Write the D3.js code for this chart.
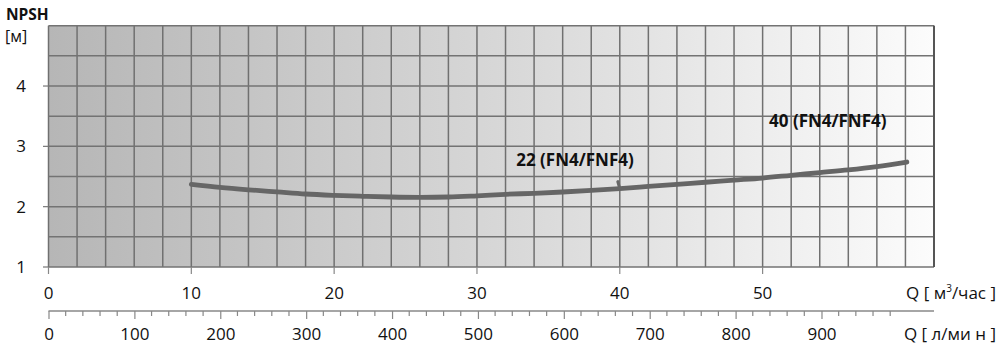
<!DOCTYPE html>
<html><head><meta charset="utf-8">
<script src="https://cdn.jsdelivr.net/npm/d3@7"></script>
<style>
html,body{margin:0;padding:0;background:#fff;}
svg{display:block;font-family:"Open Sans","Noto Sans",sans-serif;}
</style></head>
<body>
<svg id="chart" width="1006" height="347"></svg>
<script>
// ---- data ----
const flowM3h = [10, 12, 14, 16, 18, 20, 22, 24, 26, 28, 30, 32, 34, 36, 38, 40, 42, 44, 46, 48, 50, 52, 54, 56, 58, 60.1];
const npsh    = [2.37, 2.32, 2.28, 2.245, 2.21, 2.188, 2.172, 2.16, 2.155, 2.16, 2.18, 2.205, 2.222, 2.243, 2.27, 2.30, 2.335, 2.37, 2.405, 2.44, 2.475, 2.52, 2.565, 2.61, 2.665, 2.74];
const yTicks = [1, 2, 3, 4];
const m3hTicks = [0, 10, 20, 30, 40, 50];
const lpmMajor = [0, 100, 200, 300, 400, 500, 600, 700, 800, 900];
const curveLabels = ["22 (FN4/FNF4)", "40 (FN4/FNF4)"];
const labelAnchors = [[32.75, 2.672], [50.45, 3.325]];
const markerQ = 40;

// ---- layout ----
const svg = d3.select("#chart");
const pL = 48.5, pR = 934, pT = 25.7, pB = 267;
const x = d3.scaleLinear().domain([0, 62]).range([pL, pR]);
const xl = d3.scaleLinear().domain([0, 1031]).range([pL, pR]);
const y = d3.scaleLinear().domain([1, 5]).range([pB, pT]);

const defs = svg.append("defs");
const grad = defs.append("linearGradient").attr("id", "bg").attr("x1", 0).attr("x2", 1).attr("y1", 0).attr("y2", 0);
grad.append("stop").attr("offset", "0%").attr("stop-color", "#b6b6b6");
grad.append("stop").attr("offset", "55%").attr("stop-color", "#dadada");
grad.append("stop").attr("offset", "100%").attr("stop-color", "#fcfcfc");

svg.append("rect").attr("x", pL).attr("y", pT).attr("width", pR - pL).attr("height", pB - pT).attr("fill", "url(#bg)");

// grid
const gx = d3.range(0, 62.01, 2);
svg.append("g").selectAll("line").data(gx).join("line")
  .attr("x1", d => x(d)).attr("x2", d => x(d)).attr("y1", pT).attr("y2", pB)
  .attr("stroke", "#707070").attr("stroke-width", 1.5);
const gy = d3.range(1, 5.01, 0.5);
svg.append("g").selectAll("line").data(gy).join("line")
  .attr("x1", pL).attr("x2", pR).attr("y1", d => y(d)).attr("y2", d => y(d))
  .attr("stroke", "#737373").attr("stroke-width", 1.5);
svg.append("line").attr("x1", pR).attr("x2", pR).attr("y1", pT).attr("y2", pB)
  .attr("stroke", "#555").attr("stroke-width", 2);

// y axis
const ya = svg.append("g");
ya.selectAll("line").data(yTicks).join("line")
  .attr("x1", 43).attr("x2", pL).attr("y1", d => y(d)).attr("y2", d => y(d))
  .attr("stroke", "#777").attr("stroke-width", 1.2);
ya.selectAll("text").data(yTicks).join("text")
  .attr("x", 26).attr("y", d => y(d) + 6).attr("text-anchor", "end")
  .attr("font-size", 17).attr("fill", "#111").text(d => d);
svg.append("text").attr("x", 6).attr("y", 20).attr("font-size", 15.5).attr("font-weight", "bold").attr("fill", "#111").text("NPSH");
svg.append("text").attr("x", 5).attr("y", 42).attr("font-size", 16).attr("fill", "#111").text("[м]");

// m3/h axis
const xa = svg.append("g");
xa.selectAll("line").data(m3hTicks).join("line")
  .attr("x1", d => x(d)).attr("x2", d => x(d)).attr("y1", pB).attr("y2", pB + 7)
  .attr("stroke", "#888").attr("stroke-width", 1.2);
xa.selectAll("text").data(m3hTicks).join("text")
  .attr("x", d => x(d)).attr("y", 299).attr("text-anchor", "middle")
  .attr("font-size", 17).attr("fill", "#111").text(d => d);
const q1 = svg.append("text").attr("x", 996).attr("y", 299).attr("text-anchor", "end").attr("font-size", 17).attr("fill", "#111");
q1.append("tspan").text("Q [ м");
q1.append("tspan").attr("font-size", 10).attr("dy", -7).text("3");
q1.append("tspan").attr("dy", 7).text("/час ]");

// l/min axis
const axL = d3.axisBottom(xl).tickValues(lpmMajor).tickSize(8).tickFormat(d3.format("d"));
const gL = svg.append("g").attr("transform", "translate(0,311)").call(axL);
gL.select(".domain").attr("stroke", "#888").attr("stroke-width", 1.5).attr("d", `M${pL},0H${pR}`);
gL.selectAll(".tick line").attr("stroke", "#888").attr("stroke-width", 1.2);
gL.selectAll(".tick text").attr("font-size", 17).attr("fill", "#111").attr("font-family", "Open Sans, Noto Sans, sans-serif").attr("y", 17).attr("dy", "0.71em");
const minor = d3.range(0, 1000, 20).filter(v => v % 100 !== 0);
svg.append("g").selectAll("line").data(minor).join("line")
  .attr("x1", d => xl(d)).attr("x2", d => xl(d)).attr("y1", 311).attr("y2", 316)
  .attr("stroke", "#888").attr("stroke-width", 1.2);
svg.append("text").attr("x", 996).attr("y", 340).attr("text-anchor", "end").attr("font-size", 17).attr("fill", "#111").text("Q [ л/ми н ]");

// curve
const pts = flowM3h.map((q, i) => [q, npsh[i]]);
const line = d3.line().x(d => x(d[0])).y(d => y(d[1])).curve(d3.curveMonotoneX);
svg.append("path").datum(pts).attr("d", line).attr("fill", "none")
  .attr("stroke", "#666").attr("stroke-width", 4.8).attr("stroke-linecap", "round");
const mi = flowM3h.indexOf(markerQ);
svg.append("line").attr("x1", x(markerQ) - 2).attr("y1", y(npsh[mi]) - 7).attr("x2", x(markerQ)).attr("y2", y(npsh[mi]))
  .attr("stroke", "#666").attr("stroke-width", 3).attr("stroke-linecap", "round");

// labels
svg.append("g").selectAll("text").data(curveLabels).join("text")
  .attr("x", (d, i) => x(labelAnchors[i][0])).attr("y", (d, i) => y(labelAnchors[i][1]))
  .attr("font-size", 17).attr("font-weight", "bold").attr("fill", "#111").text(d => d);
</script>
</body></html>
